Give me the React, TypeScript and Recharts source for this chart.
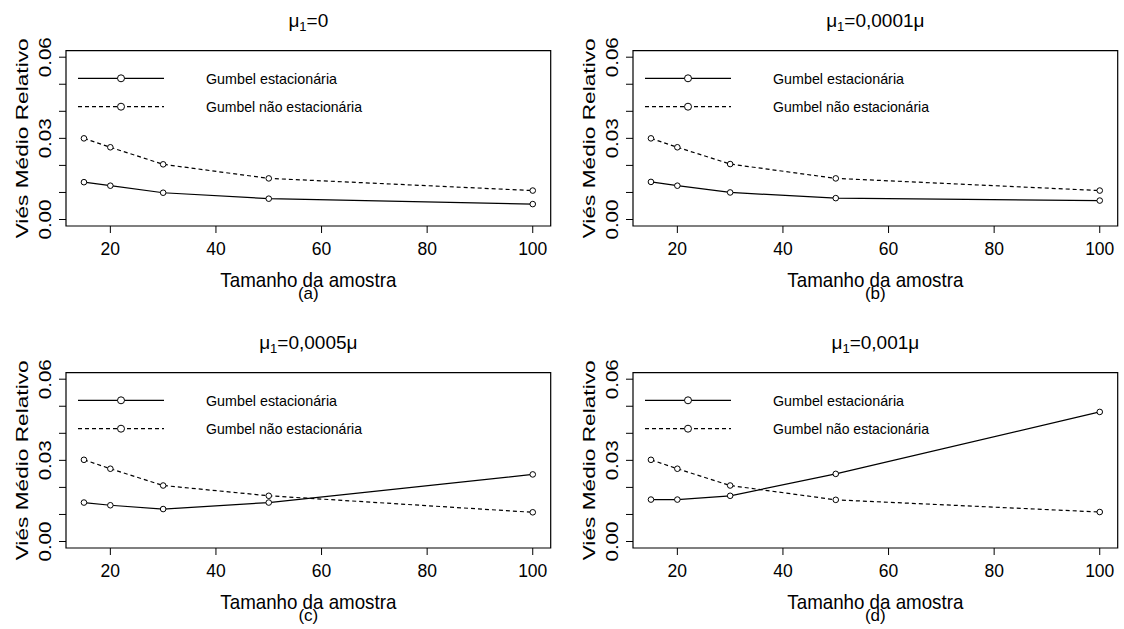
import React from 'react'
import { LineChart, Line, XAxis, YAxis, Legend, Label, ReferenceArea } from 'recharts'

// sample sizes on the x axis
const sampleSizes = [15, 20, 30, 50, 100]

// relative mean bias
const estA = [0.0138, 0.0125, 0.0099, 0.0077, 0.0057]
const naoEstA = [0.03, 0.0267, 0.0204, 0.0152, 0.0107]
const estB = [0.0139, 0.0125, 0.01, 0.0079, 0.007]
const naoEstB = [0.03, 0.0267, 0.0205, 0.0152, 0.0107]
const estC = [0.0144, 0.0134, 0.012, 0.0144, 0.0248]
const naoEstC = [0.0302, 0.0269, 0.0207, 0.0169, 0.0108]
const estD = [0.0155, 0.0155, 0.0169, 0.025, 0.0479]
const naoEstD = [0.0302, 0.0269, 0.0207, 0.0154, 0.0109]

const xTicks = [20, 40, 60, 80, 100]
const yTicks = [0, 0.01, 0.02, 0.03, 0.04, 0.05, 0.06]
const yTickLabels = ['0.00', '', '', '0.03', '', '', '0.06']
const seriesNames = ['Gumbel estacionária', 'Gumbel não estacionária']
const titleValues = ['0', '0,0001μ', '0,0005μ', '0,001μ']
const panelLetters = ['(a)', '(b)', '(c)', '(d)']

const FONT = '"Liberation Sans", Arial, Helvetica, sans-serif'
const CHART_W = 567
const CHART_H = 322
const BOX = { left: 66, right: 550.7, top: 50.7, bottom: 226 }
const X_DOMAIN: [number, number] = [11.6, 103.4]
const Y_DOMAIN: [number, number] = [-0.0024, 0.0624]
const X_AXIS_H = 30
const MID_X = (BOX.left + BOX.right) / 2
const MID_Y = (BOX.top + BOX.bottom) / 2
const DASH = '4 3'

const XTick = ({ x, payload }: any) => (
  <text x={x} y={BOX.bottom + 29.3} textAnchor="middle" fontSize={17.5} fontFamily={FONT} fill="#000">
    {payload.value}
  </text>
)

const YTick = ({ y, index }: any) => {
  const label = yTickLabels[index]
  if (!label) return null
  const bx = BOX.left - 15.3
  return (
    <text
      x={bx}
      y={y}
      transform={`rotate(-90 ${bx} ${y})`}
      textAnchor="middle"
      fontSize={16}
      fontFamily={FONT}
      fill="#000"
      textLength={40}
      lengthAdjust="spacingAndGlyphs"
    >
      {label}
    </text>
  )
}

const LegendBox = () => (
  <svg width={300} height={60} style={{ display: 'block', overflow: 'visible' }}>
    {seriesNames.map((name, i) => {
      const cy = 14.3 + 28.4 * i
      return (
        <g key={name}>
          <line x1={8} x2={94} y1={cy} y2={cy} stroke="#000" strokeWidth={1.2} strokeDasharray={i ? DASH : undefined} />
          <circle cx={51} cy={cy} r={3.5} fill="#fff" stroke="#000" strokeWidth={1} />
          <text
            x={136}
            y={cy + 5.5}
            fontSize={15}
            fontFamily={FONT}
            fill="#000"
            textLength={i ? 156 : 131}
            lengthAdjust="spacingAndGlyphs"
          >
            {name}
          </text>
        </g>
      )
    })}
  </svg>
)

interface PanelProps {
  est: number[]
  naoEst: number[]
  idx: number
  left: number
  top: number
}

const Panel = ({ est, naoEst, idx, left, top }: PanelProps) => {
  const data = sampleSizes.map((n, i) => ({ n, est: est[i], naoEst: naoEst[i] }))
  return (
    <div style={{ position: 'absolute', left, top, width: CHART_W, height: CHART_H }}>
      <LineChart
        width={CHART_W}
        height={CHART_H}
        data={data}
        margin={{ top: BOX.top, right: CHART_W - BOX.right, bottom: CHART_H - BOX.bottom - X_AXIS_H, left: 0 }}
      >
        <XAxis
          dataKey="n"
          type="number"
          domain={X_DOMAIN}
          ticks={xTicks}
          interval={0}
          allowDataOverflow
          height={X_AXIS_H}
          tickSize={7}
          tickLine={{ stroke: '#000' }}
          axisLine={false}
          tick={XTick}
        >
          <Label
            content={() => (
              <g fontFamily={FONT} fill="#000">
                <text x={MID_X} y={27.3} textAnchor="middle" fontSize={19}>
                  μ<tspan fontSize={13} dy={4}>1</tspan>
                  <tspan dy={-4}>={titleValues[idx]}</tspan>
                </text>
                <text x={MID_X} y={286.7} textAnchor="middle" fontSize={21} textLength={176} lengthAdjust="spacingAndGlyphs">
                  Tamanho da amostra
                </text>
                <text x={MID_X} y={298.5} textAnchor="middle" fontSize={17}>
                  {panelLetters[idx]}
                </text>
              </g>
            )}
          />
        </XAxis>
        <YAxis
          type="number"
          domain={Y_DOMAIN}
          ticks={yTicks}
          interval={0}
          allowDataOverflow
          width={BOX.left}
          tickSize={7}
          tickLine={{ stroke: '#000' }}
          axisLine={false}
          tick={YTick}
        >
          <Label
            content={() => (
              <text
                x={27.7}
                y={MID_Y}
                transform={`rotate(-90 27.7 ${MID_Y})`}
                textAnchor="middle"
                fontSize={16.5}
                fontFamily={FONT}
                fill="#000"
                textLength={200}
                lengthAdjust="spacingAndGlyphs"
              >
                Viés Médio Relativo
              </text>
            )}
          />
        </YAxis>
        <ReferenceArea
          x1={X_DOMAIN[0]}
          x2={X_DOMAIN[1]}
          y1={Y_DOMAIN[0]}
          y2={Y_DOMAIN[1]}
          ifOverflow="visible"
          fill="none"
          stroke="#000"
          strokeWidth={1.2}
        />
        <Legend
          layout="vertical"
          align="center"
          verticalAlign="middle"
          wrapperStyle={{ left: 70, top: 64, width: 300 }}
          content={() => <LegendBox />}
        />
        <Line
          dataKey="est"
          name={seriesNames[0]}
          stroke="#000"
          strokeWidth={1.2}
          dot={{ r: 2.8, stroke: '#000', strokeWidth: 1, fill: '#fff' }}
          activeDot={false}
          isAnimationActive={false}
        />
        <Line
          dataKey="naoEst"
          name={seriesNames[1]}
          stroke="#000"
          strokeWidth={1.2}
          strokeDasharray={DASH}
          dot={{ r: 2.8, stroke: '#000', strokeWidth: 1, fill: '#fff', strokeDasharray: '' }}
          activeDot={false}
          isAnimationActive={false}
        />
      </LineChart>
    </div>
  )
}

export default function App() {
  return (
    <div style={{ position: 'absolute', left: 0, top: 0, width: 1124, height: 629, background: '#fff', overflow: 'hidden' }}>
      <Panel est={estA} naoEst={naoEstA} idx={0} left={0} top={0} />
      <Panel est={estB} naoEst={naoEstB} idx={1} left={567.4} top={0} />
      <Panel est={estC} naoEst={naoEstC} idx={2} left={0} top={322} />
      <Panel est={estD} naoEst={naoEstD} idx={3} left={567.4} top={322} />
    </div>
  )
}
